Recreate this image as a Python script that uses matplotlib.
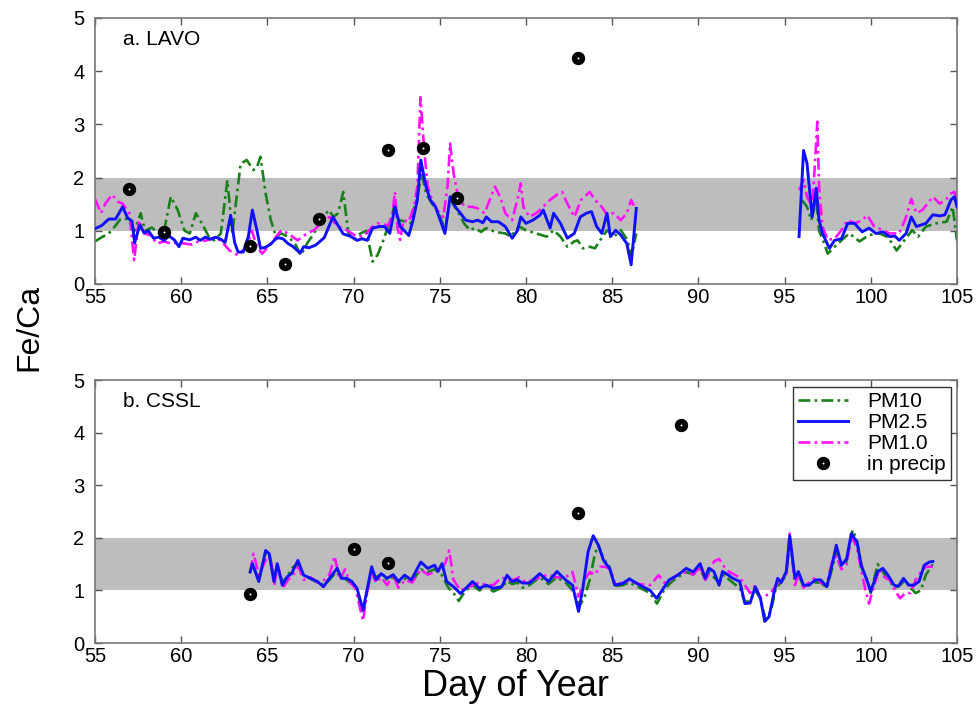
import numpy as np
import matplotlib
matplotlib.use("Agg")
import matplotlib.pyplot as plt

plt.rcParams['font.family'] = ['Liberation Sans', 'DejaVu Sans']

NAN = float('nan')

# ---- a. LAVO : (day of year, Fe/Ca) ----
LAVO_PM10 = [(55.0,0.8),(55.4,0.88),(55.8,0.95),(56.2,1.1),(56.5,1.23),(56.9,1.22),(57.3,1.0),(57.65,1.33),
    (57.9,1.0),(58.3,1.06),(58.7,0.95),(59.0,0.98),(59.4,1.64),(59.8,1.39),(60.2,1.0),(60.5,0.95),(60.85,1.33),
    (61.2,1.14),(61.6,0.89),(61.9,0.82),(62.3,0.95),(62.68,1.95),(62.97,0.95),(63.15,1.45),(63.45,2.26),(63.8,2.33),
    (64.2,2.14),(64.4,2.2),(64.6,2.39),(64.9,1.7),(65.2,1.2),(65.5,0.89),(65.8,0.95),(66.2,0.89),(66.6,0.76),
    (66.95,0.54),(67.3,0.76),(67.7,0.95),(68.1,1.2),(68.56,1.39),(68.85,1.26),(69.1,1.33),(69.4,1.73),(69.7,0.95),
    (70.0,0.82),(70.4,0.95),(70.75,1.0),(71.1,0.42),(71.4,0.55),(71.7,0.8),(72.0,1.08),(72.2,1.26),(72.4,1.51),
    (72.6,1.2),(72.95,1.18),(73.3,1.14),(73.7,1.64),(73.95,2.08),(74.2,1.7),(74.55,1.51),(74.95,1.33),(75.3,1.01),
    (75.6,1.58),(76.0,1.39),(76.4,1.14),(76.75,1.01),(77.0,1.05),(77.4,0.98),(77.7,1.05),(78.2,0.98),(78.8,0.95),
    (79.1,0.89),(79.6,1.08),(80.0,1.01),(80.6,0.95),(81.2,0.89),(81.6,1.01),(82.0,0.89),(82.4,0.7),(82.8,0.8),
    (83.0,0.82),(83.3,0.67),(83.7,0.7),(84.0,0.67),(84.3,0.82),(84.7,1.01),(85.1,0.89),(85.5,1.01),(85.9,0.82),
    (86.1,0.5),(86.4,0.95),(91.0,NAN),
    (96.0,1.58),(96.3,1.45),(96.55,1.2),(96.84,1.58),(97.0,1.0),(97.3,0.76),(97.5,0.57),(97.9,0.7),(98.3,0.82),
    (98.75,0.95),(99.35,0.8),(99.9,0.92),(100.5,0.95),(101.0,0.88),(101.5,0.63),(101.9,0.8),(102.4,1.01),
    (102.75,0.89),(103.2,1.08),(103.8,1.14),(104.4,1.17),(104.75,1.45),(105.0,0.82)]

LAVO_PM25 = [(55.0,1.04),(55.4,1.1),(55.8,1.22),(56.2,1.22),(56.6,1.45),(56.9,1.24),(57.15,1.18),(57.3,0.77),
    (57.6,1.11),(57.85,0.96),(58.1,1.0),(58.4,0.86),(58.7,0.88),(59.0,0.82),(59.3,0.9),(59.6,0.83),(59.87,0.7),
    (60.1,0.86),(60.5,0.83),(60.85,0.88),(61.1,0.82),(61.4,0.88),(61.7,0.84),(62.0,0.88),(62.3,0.84),(62.55,0.78),
    (62.87,1.29),(63.1,0.78),(63.3,0.6),(63.6,0.6),(63.9,0.9),(64.13,1.39),(64.4,1.0),(64.6,0.67),(64.9,0.69),
    (65.2,0.75),(65.4,0.82),(65.6,0.87),(65.9,0.85),(66.2,0.76),(66.5,0.7),(66.9,0.58),(67.1,0.7),(67.4,0.68),
    (67.8,0.73),(68.3,0.87),(68.8,1.26),(69.1,1.1),(69.4,0.94),(69.8,0.9),(70.2,0.82),(70.5,0.85),(70.8,0.82),
    (71.1,1.05),(71.5,1.08),(71.8,1.08),(72.1,0.95),(72.4,1.45),(72.7,1.08),(72.95,1.0),(73.2,0.91),(73.45,1.2),
    (73.7,1.58),(73.9,2.33),(74.2,1.83),(74.45,1.58),(74.75,1.45),(75.03,1.2),(75.3,0.95),(75.6,1.64),(75.9,1.45),
    (76.2,1.33),(76.5,1.2),(76.9,1.17),(77.2,1.2),(77.5,1.15),(77.7,1.26),(78.0,1.17),(78.4,1.17),(78.8,1.08),
    (79.2,0.86),(79.5,1.0),(79.7,1.26),(80.0,1.14),(80.4,1.2),(80.8,1.29),(81.0,1.39),(81.4,1.05),(81.6,1.33),
    (82.0,1.14),(82.4,0.86),(82.8,0.95),(83.15,1.26),(83.5,1.33),(83.8,1.36),(84.1,1.08),(84.4,0.95),(84.7,1.33),
    (84.9,0.89),(85.2,1.01),(85.5,0.92),(85.85,0.76),(86.1,0.36),(86.4,1.42),(91.0,NAN),
    (95.84,0.89),(96.1,2.51),(96.3,2.27),(96.6,1.26),(96.84,1.8),(97.0,1.2),(97.2,0.95),(97.6,0.67),(97.9,0.82),
    (98.3,0.85),(98.66,1.14),(99.05,1.14),(99.5,0.98),(99.9,1.05),(100.3,0.95),(100.7,0.98),(101.1,0.89),
    (101.4,0.9),(101.65,0.82),(102.05,0.95),(102.35,1.26),(102.65,1.08),(103.2,1.14),(103.6,1.3),(104.0,1.28),
    (104.3,1.3),(104.65,1.58),(104.85,1.64),(105.0,1.45)]

LAVO_PM1 = [(55.0,1.6),(55.35,1.33),(55.6,1.51),(56.0,1.68),(56.3,1.55),(56.6,1.51),(57.0,1.33),(57.27,0.45),
    (57.55,1.2),(57.85,0.95),(58.2,0.92),(58.6,0.76),(59.0,0.8),(59.4,0.76),(59.8,0.78),(60.2,0.76),(60.6,0.74),
    (61.0,0.8),(61.5,0.82),(61.9,0.87),(62.3,0.82),(62.8,0.63),(63.3,0.54),(63.8,0.7),(64.1,1.0),(64.4,0.7),
    (64.7,0.57),(65.2,0.76),(65.8,1.01),(66.2,0.95),(66.75,0.82),(67.3,0.95),(67.7,1.01),(68.1,1.14),(68.6,1.26),
    (69.1,1.08),(69.6,1.01),(70.2,0.89),(70.6,0.9),(71.1,1.08),(71.4,1.14),(72.0,1.1),(72.25,1.3),(72.4,1.73),
    (72.55,1.05),(72.7,0.83),(72.9,1.2),(73.2,1.17),(73.5,1.45),(73.7,1.83),(73.88,3.51),(74.1,2.51),(74.3,1.83),
    (74.55,1.58),(74.85,1.39),(75.2,1.26),(75.45,1.83),(75.6,2.64),(75.8,2.08),(76.1,1.58),(76.5,1.45),(76.9,1.45),
    (77.2,1.42),(77.6,1.33),(77.9,1.58),(78.2,1.83),(78.5,1.64),(78.8,1.33),(79.2,1.2),(79.5,1.58),(79.7,1.89),
    (79.85,1.45),(80.2,1.26),(80.6,1.33),(81.0,1.45),(81.4,1.58),(81.8,1.68),(82.1,1.73),(82.4,1.51),(82.8,1.26),
    (83.2,1.58),(83.7,1.73),(84.0,1.58),(84.4,1.45),(84.7,1.3),(85.1,1.33),(85.5,1.2),(85.85,1.33),(86.1,1.58),
    (86.4,1.39),(91.0,NAN),
    (95.84,1.76),(96.1,1.95),(96.3,1.64),(96.6,1.45),(96.75,2.2),(96.9,3.05),(97.0,1.83),(97.2,1.08),(97.5,0.83),
    (97.9,0.85),(98.3,1.01),(98.65,1.2),(99.1,1.14),(99.5,1.2),(99.8,1.29),(100.2,1.08),(100.7,1.01),(101.1,0.95),
    (101.65,0.95),(102.05,1.26),(102.35,1.6),(102.65,1.33),(103.0,1.39),(103.6,1.64),(104.0,1.51),(104.35,1.58),
    (104.65,1.7),(104.85,1.73),(105.0,1.58)]

LAVO_PRECIP = [(57,1.78),(59,0.97),(64,0.72),(66,0.37),(68,1.23),(72,2.52),(74,2.55),(76,1.62),(83,4.25)]

# ---- b. CSSL ----
CSSL_PM10 = [(64.2,1.45),(64.5,1.2),(64.9,1.7),(65.1,1.72),(65.4,1.25),(65.6,1.45),(65.9,1.15),(66.2,1.3),
    (66.5,1.45),(66.8,1.5),(67.1,1.3),(67.5,1.22),(67.9,1.15),(68.3,1.1),(68.6,1.2),(69.0,1.35),(69.3,1.25),
    (69.6,1.2),(69.9,1.12),(70.2,1.0),(70.55,0.55),(70.8,1.0),(71.05,1.38),(71.3,1.25),(71.6,1.3),(71.95,1.2),
    (72.3,1.25),(72.6,1.15),(73.0,1.22),(73.4,1.18),(73.9,1.4),(74.3,1.35),(74.7,1.4),(75.1,1.3),(75.5,1.05),
    (75.8,0.95),(76.1,0.8),(76.5,1.0),(76.9,1.1),(77.3,1.0),(77.7,1.08),(78.1,0.98),(78.6,1.05),(78.9,1.18),
    (79.2,1.12),(79.5,1.15),(79.8,1.05),(80.2,1.1),(80.8,1.25),(81.3,1.12),(81.8,1.25),(82.3,1.15),(82.7,1.0),
    (83.1,0.7),(83.4,0.88),(83.7,1.2),(84.0,1.7),(84.2,1.85),(84.5,1.6),(84.85,1.45),(85.15,1.08),(85.6,1.1),
    (86.0,1.15),(86.6,1.05),(87.2,0.95),(87.6,0.75),(88.0,1.0),(88.4,1.15),(88.8,1.25),(89.3,1.35),(89.7,1.3),
    (90.1,1.42),(90.4,1.2),(90.6,1.35),(90.9,1.25),(91.2,1.15),(91.5,1.3),(91.8,1.2),(92.1,1.12),(92.4,1.05),
    (92.7,0.78),(93.0,0.8),(93.3,1.0),(93.6,0.85),(93.9,0.45),(94.2,0.6),(94.5,1.05),(94.8,1.15),(95.1,1.3),
    (95.3,1.95),(95.6,1.25),(95.8,1.3),(96.1,1.08),(96.4,1.1),(96.8,1.15),(97.1,1.15),(97.45,1.05),(97.75,1.4),
    (98.0,1.75),(98.3,1.5),(98.6,1.55),(98.95,2.15),(99.2,1.95),(99.5,1.4),(99.8,1.2),(100.0,0.95),(100.4,1.5),
    (100.7,1.35),(101.0,1.2),(101.4,1.05),(101.7,1.1),(102.0,1.2),(102.3,1.05),(102.6,0.95),(102.9,1.0),
    (103.2,1.3),(103.6,1.5)]

CSSL_PM25 = [(64.0,1.35),(64.13,1.51),(64.5,1.17),(64.9,1.76),(65.1,1.7),(65.38,1.17),(65.57,1.51),(65.87,1.1),
    (66.15,1.26),(66.4,1.32),(66.77,1.57),(67.1,1.29),(67.5,1.23),(67.9,1.17),(68.25,1.07),(68.6,1.23),(69.05,1.42),
    (69.3,1.23),(69.6,1.23),(69.9,1.17),(70.2,1.04),(70.55,0.63),(70.8,1.04),(71.05,1.45),(71.3,1.2),(71.6,1.32),
    (71.95,1.23),(72.3,1.3),(72.6,1.17),(72.96,1.29),(73.35,1.2),(73.9,1.54),(74.3,1.42),(74.7,1.48),(74.9,1.36),
    (75.13,1.51),(75.4,1.17),(75.8,1.07),(76.2,0.94),(76.6,1.07),(76.9,1.17),(77.3,1.04),(77.7,1.1),(78.1,1.04),
    (78.6,1.07),(78.9,1.29),(79.2,1.17),(79.5,1.2),(79.8,1.14),(80.2,1.14),(80.8,1.32),(81.3,1.17),(81.8,1.36),
    (82.3,1.2),(82.7,1.1),(83.05,0.6),(83.3,1.04),(83.6,1.73),(83.9,2.04),(84.2,1.86),(84.5,1.57),(84.85,1.42),
    (85.15,1.1),(85.6,1.13),(86.0,1.22),(86.6,1.1),(87.2,1.0),(87.58,0.85),(87.97,1.04),(88.3,1.2),(88.8,1.29),
    (89.3,1.42),(89.7,1.35),(90.1,1.51),(90.4,1.23),(90.6,1.42),(90.9,1.36),(91.2,1.1),(91.4,1.36),(91.7,1.3),
    (92.0,1.23),(92.4,1.17),(92.7,0.75),(93.0,0.76),(93.3,1.07),(93.6,0.85),(93.85,0.41),(94.1,0.5),(94.4,0.98),
    (94.6,1.23),(94.8,1.15),(95.1,1.36),(95.3,2.04),(95.6,1.23),(95.8,1.36),(96.1,1.1),(96.4,1.1),(96.8,1.2),
    (97.1,1.2),(97.45,1.07),(97.75,1.48),(98.0,1.86),(98.3,1.48),(98.6,1.6),(98.87,2.08),(99.2,1.92),(99.45,1.48),
    (99.8,1.17),(100.0,0.98),(100.4,1.36),(100.7,1.42),(101.0,1.29),(101.35,1.1),(101.6,1.08),(101.9,1.23),
    (102.2,1.1),(102.5,1.1),(102.8,1.17),(103.1,1.48),(103.4,1.54),(103.6,1.55)]

CSSL_PM1 = [(64.0,1.35),(64.2,1.7),(64.5,1.3),(64.8,1.5),(65.0,1.65),(65.2,1.6),(65.4,1.1),(65.6,1.5),(65.9,1.05),
    (66.2,1.2),(66.5,1.3),(66.8,1.45),(67.1,1.2),(67.5,1.25),(67.9,1.15),(68.3,1.2),(68.6,1.3),(68.9,1.65),
    (69.2,1.2),(69.5,1.4),(69.8,1.15),(70.1,1.05),(70.55,0.42),(70.8,1.0),(71.05,1.35),(71.3,1.15),(71.6,1.25),
    (71.95,1.1),(72.3,1.3),(72.6,1.05),(73.0,1.2),(73.4,1.15),(73.9,1.4),(74.3,1.3),(74.7,1.35),(75.0,1.4),
    (75.3,1.5),(75.55,1.76),(75.8,1.2),(76.2,1.0),(76.6,1.05),(76.9,1.1),(77.3,1.15),(77.7,1.1),(78.1,1.1),
    (78.6,1.25),(78.9,1.2),(79.3,1.2),(79.6,1.25),(80.0,1.15),(80.4,1.2),(80.8,1.25),(81.3,1.3),(81.8,1.25),
    (82.3,1.25),(82.7,1.35),(83.05,0.88),(83.4,1.2),(83.7,1.35),(84.0,1.3),(84.3,1.45),(84.6,1.45),(84.9,1.4),
    (85.2,1.1),(85.6,1.15),(86.0,1.18),(86.6,1.12),(87.2,1.1),(87.7,1.29),(88.0,1.15),(88.4,1.2),(88.8,1.3),
    (89.3,1.35),(89.7,1.3),(90.1,1.45),(90.4,1.2),(90.6,1.3),(90.9,1.55),(91.2,1.6),(91.5,1.45),(91.8,1.35),
    (92.1,1.3),(92.4,1.25),(92.7,1.1),(93.0,0.95),(93.3,1.1),(93.6,0.85),(93.9,0.9),(94.2,0.95),(94.5,1.1),
    (94.8,1.2),(95.1,1.3),(95.3,2.08),(95.6,1.1),(95.8,1.3),(96.1,1.05),(96.4,1.15),(96.8,1.25),(97.1,1.15),
    (97.45,1.1),(97.75,1.55),(98.0,1.65),(98.3,1.4),(98.6,1.5),(98.87,2.05),(99.2,1.8),(99.5,1.3),(99.7,1.0),
    (99.9,0.75),(100.2,1.1),(100.5,1.4),(100.8,1.25),(101.1,1.2),(101.4,1.0),(101.7,0.85),(102.0,0.95),
    (102.3,0.95),(102.6,1.2),(102.9,1.35),(103.2,1.45),(103.6,1.45)]

CSSL_PRECIP = [(64,0.93),(70,1.78),(72,1.52),(83,2.48),(89,4.15)]

SERIES_LABELS = ["PM10", "PM2.5", "PM1.0", "in precip"]
PANEL_TITLES = ["a. LAVO", "b. CSSL"]
X_TICKS = [55, 60, 65, 70, 75, 80, 85, 90, 95, 100, 105]
Y_TICKS = [0, 1, 2, 3, 4, 5]


def xy(pairs):
    arr = np.array(pairs, dtype=float)
    return arr[:, 0], arr[:, 1]


fig = plt.figure(figsize=(9.77, 7.04), dpi=100)
ax_top = fig.add_axes([0.0972, 0.5966, 0.8823, 0.378])
ax_bot = fig.add_axes([0.0972, 0.0866, 0.8823, 0.3736])

panels = [
    (ax_top, LAVO_PM10, LAVO_PM25, LAVO_PM1, LAVO_PRECIP, PANEL_TITLES[0]),
    (ax_bot, CSSL_PM10, CSSL_PM25, CSSL_PM1, CSSL_PRECIP, PANEL_TITLES[1]),
]

dashdot = (0, (4.5, 1.6, 1, 1.6))

for ax, pm10, pm25, pm1, precip, title in panels:
    ax.axhspan(1, 2, color='#bdbdbd', lw=0, zorder=0)
    h10, = ax.plot(*xy(pm10), color='#1a801a', lw=1.9, ls=dashdot, zorder=2)
    h25, = ax.plot(*xy(pm25), color='#1010ff', lw=2.1, ls='-', zorder=3)
    h1, = ax.plot(*xy(pm1), color='#ff10ff', lw=1.9, ls=dashdot, zorder=2.5)
    hp, = ax.plot(*xy(precip), ls='none', marker='o', ms=5.6, mfc='white', mec='black', mew=4.0, zorder=4)

    ax.set_xlim(55, 105)
    ax.set_ylim(0, 5)
    ax.set_xticks(X_TICKS)
    ax.set_yticks(Y_TICKS)
    ax.tick_params(direction='in', length=5, width=1, top=True, right=True,
                   labelsize=14.5, colors='#555555', labelcolor='black')
    ax.tick_params(axis='x', pad=3)
    ax.tick_params(axis='y', pad=7.5)
    for sp in ax.spines.values():
        sp.set_color('#777777')
        sp.set_linewidth(1.2)
    ax.text(56.6, 4.6, title, fontsize=15, ha='left', va='center')

leg = ax_bot.legend([h10, h25, h1, hp], SERIES_LABELS, loc='upper right',
                    bbox_to_anchor=(1 - 6 / 862, 1 - 7 / 263), borderaxespad=0,
                    fontsize=15, frameon=True, fancybox=False, framealpha=1,
                    handlelength=2.4, handletextpad=0.9, borderpad=0.25, labelspacing=0.1)
leg.get_frame().set_edgecolor('#333333')
leg.get_frame().set_linewidth(1.0)

fig.text(0.03, 0.535, "Fe/Ca", rotation=90, fontsize=23, ha='center', va='center')
fig.text(0.528, 8.5 / 704, "Day of Year", fontsize=26, ha='center', va='baseline')

fig.savefig("out.png", dpi=100)
